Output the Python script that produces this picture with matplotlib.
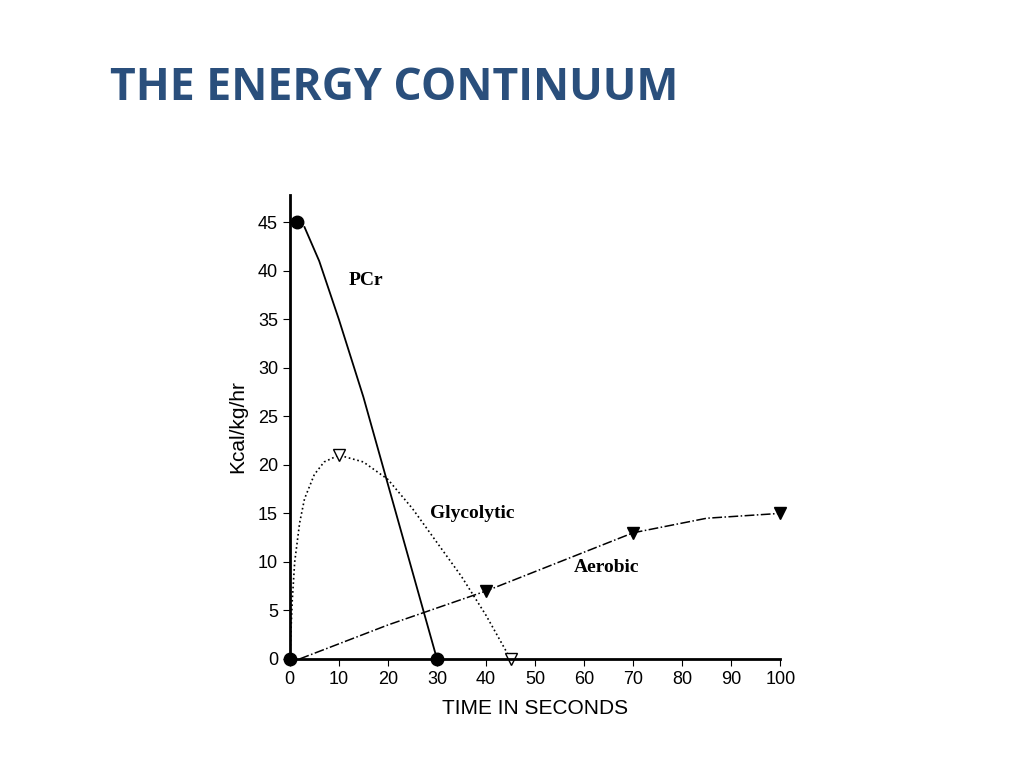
import matplotlib.pyplot as plt

# PCr curve
pcr_t = [3, 6, 10, 15, 20, 25, 30]
pcr_v = [44.5, 41, 35, 27, 18, 9, 0]
pcr_mark_t = [1.5, 0, 30]
pcr_mark_v = [45, 0, 0]

# Glycolytic curve
gly_t = [0, 0.5, 1, 2, 3, 5, 7, 10, 15, 20, 25, 30, 35, 40, 45]
gly_v = [0, 6, 10, 14, 16.5, 19, 20.3, 21, 20.3, 18.5, 15.5, 12, 8.5, 4.5, 0]
gly_mark_t = [10, 45]
gly_mark_v = [21, 0]

# Aerobic curve
aer_t = [2, 20, 40, 55, 70, 85, 100]
aer_v = [0, 3.5, 7, 10, 13, 14.5, 15]
aer_mark_t = [40, 70, 100]
aer_mark_v = [7, 13, 15]

fig = plt.figure(figsize=(10.24, 7.68), dpi=100)
fig.text(0.107, 0.885, 'THE ENERGY CONTINUUM', fontsize=32, color='#2a4f7c',
         fontfamily='Open Sans', fontweight='bold', va='center', fontstretch='condensed')

ax = fig.add_axes([0.283, 0.142, 0.479, 0.604])
ax.plot(pcr_t, pcr_v, color='black', lw=1.3)
ax.plot(pcr_mark_t, pcr_mark_v, 'o', color='black', ms=9, ls='none', clip_on=False)
ax.plot(gly_t, gly_v, color='black', lw=1.2, ls=':')
ax.plot(gly_mark_t, gly_mark_v, 'v', mfc='white', mec='black', ms=9, ls='none', clip_on=False)
ax.plot(aer_t, aer_v, color='black', lw=1.1, ls='-.')
ax.plot(aer_mark_t, aer_mark_v, 'v', color='black', ms=9, ls='none', clip_on=False)

ax.text(12, 38.5, 'PCr', fontfamily='Liberation Serif', fontsize=14, fontweight='bold')
ax.text(28.5, 14.5, 'Glycolytic', fontfamily='Liberation Serif', fontsize=14, fontweight='bold')
ax.text(58, 9, 'Aerobic', fontfamily='Liberation Serif', fontsize=14, fontweight='bold')

ax.set_xlim(0, 100)
ax.set_ylim(0, 47.8)
ax.set_xticks(range(0, 101, 10))
ax.set_yticks(range(0, 46, 5))
ax.spines['top'].set_visible(False)
ax.spines['right'].set_visible(False)
ax.spines['left'].set_linewidth(2)
ax.spines['bottom'].set_linewidth(2)
ax.tick_params(labelsize=13, length=5)
for lab in ax.get_xticklabels() + ax.get_yticklabels():
    lab.set_fontfamily('Liberation Sans')
ax.set_xlabel('TIME IN SECONDS', fontsize=15, fontfamily='Liberation Sans', labelpad=8)
ax.set_ylabel('Kcal/kg/hr', fontsize=15, fontfamily='Liberation Sans', labelpad=8)

fig.savefig('out.png')
